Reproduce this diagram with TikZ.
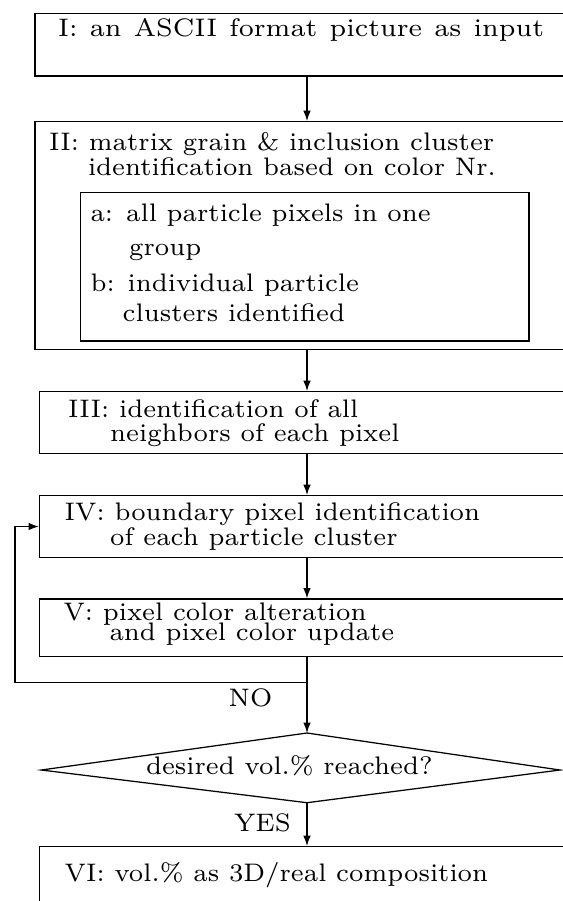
\documentclass[tikz,border=0pt]{standalone}
\usepackage{graphicx}
\usetikzlibrary{arrows.meta,fit}
\begin{document}
\begin{tikzpicture}[x=0.28pt,y=-0.28pt,
  box/.style={draw, line width=0.35pt, inner sep=0pt},
  lbl/.style={anchor=base west, inner sep=0pt, font=\fontsize{7.1}{8}\selectfont},
  arr/.style={-{Latex[length=2.9pt,width=2.1pt]}, line width=0.35pt}]
\useasboundingbox (0,0) rectangle (563,901);
\clip (0,0) rectangle (563,901);
% boxes
\node[box, fit={(35,13.3) (600,76)}] (b1) {};
\node[box, fit={(35,121.7) (600,349.5)}] (b2) {};
\node[box, fit={(80.8,192.3) (529,341)}] (b2i) {};
\node[box, fit={(39.5,391.7) (600,453.3)}] (b3) {};
\node[box, fit={(39.5,495.7) (600,557.3)}] (b4) {};
\node[box, fit={(39.5,599) (600,656.7)}] (b5) {};
\node[box, fit={(39.5,846.7) (600,950)}] (b6) {};
% diamond
\coordinate (dt) at (307,733);
\coordinate (dr) at (560,770);
\coordinate (db) at (307,802.7);
\coordinate (dl) at (41.3,770);
\draw[line width=0.35pt] (dt) -- (dr) -- (db) -- (dl) -- cycle;
% texts
\node[lbl] (t1) at (57.5,36) {\scalebox{1.045}[1]{\makebox[130.2pt][s]{I: an ASCII format picture as input}}};
\node[lbl] (t2a) at (48.5,150.5) {II: matrix grain \& inclusion cluster};
\node[lbl] (t2b) at (87.3,175) {identification based on color Nr.};
\node[lbl] (t2c) at (89.8,221) {a: all particle pixels in one};
\node[lbl] (t2d) at (128.5,255.7) {group};
\node[lbl] (t2e) at (89.8,291.7) {b: individual particle};
\node[lbl] (t2f) at (122,321.7) {clusters identified};
\node[lbl] (t3a) at (67.5,417.3) {III: identification of all};
\node[lbl] (t3b) at (109.5,441.7) {neighbors of each pixel};
\node[lbl] (t4a) at (64,520) {IV: boundary pixel identification};
\node[lbl] (t4b) at (109.5,545) {of each particle cluster};
\node[lbl] (t5a) at (62.8,620) {V: pixel color alteration};
\node[lbl] (t5b) at (108.8,640.7) {and pixel color update};
\node[lbl] (td) at (145.4,774) {desired vol.\% reached?};
\node[lbl] (tno) at (228,706.7) {NO};
\node[lbl] (tyes) at (233.4,831.7) {YES};
\node[lbl] (t6) at (64,881.7) {VI: vol.\% as 3D/real composition};
% connectors
\coordinate (xa) at (307,0);
\coordinate (lp) at (307,682.7);
\coordinate (lc) at (15,682.7);
\draw[arr] (b1.south -| xa) -- (b2.north -| xa);
\draw[arr] (b2.south -| xa) -- (b3.north -| xa);
\draw[arr] (b3.south -| xa) -- (b4.north -| xa);
\draw[arr] (b4.south -| xa) -- (b5.north -| xa);
\draw[arr] (b5.south -| xa) -- (dt);
\draw[arr] (lp) -- (lc) |- (b4.west);
\draw[arr] (db) -- (b6.north -| xa);
\end{tikzpicture}
\end{document}
